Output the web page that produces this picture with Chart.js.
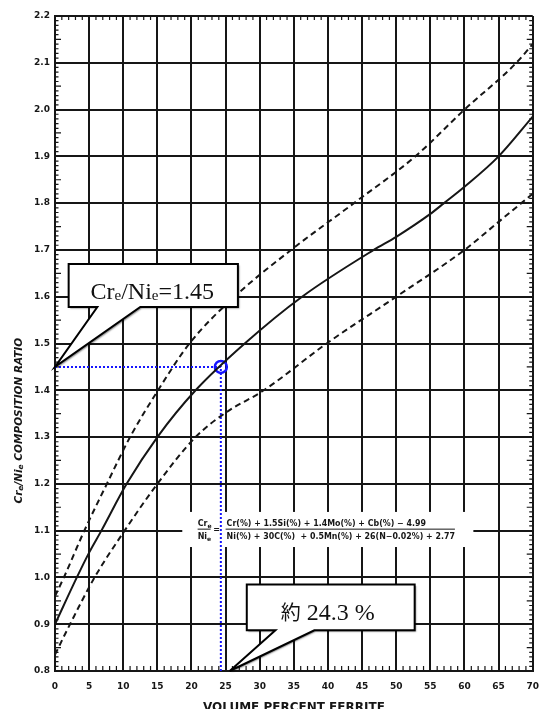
<!DOCTYPE html>
<html>
<head>
<meta charset="utf-8">
<script src="https://cdn.jsdelivr.net/npm/chart.js@4.4.1/dist/chart.umd.min.js"></script>
<style>
  html, body { margin: 0; padding: 0; background: #fff; overflow: hidden; }
  #wrap { position: relative; width: 549px; height: 709px; overflow: hidden; }
  #box { position: relative; width: 549px; height: 720px; }
  canvas { display: block; }
</style>
</head>
<body>
<div id="wrap"><div id="box"><canvas id="c"></canvas></div></div>
<script>
// ---------- data ----------
const ferriteTicks = [0, 5, 10, 15, 20, 25, 30, 35, 40, 45, 50, 55, 60, 65, 70];
const ratioTicks = [0.8, 0.9, 1.0, 1.1, 1.2, 1.3, 1.4, 1.5, 1.6, 1.7, 1.8, 1.9, 2.0, 2.1, 2.2];

// centre (solid) curve
const midFerrite = [0, 3.2, 5, 6.8, 10.5, 15.0, 20.6, 27.8, 36.2, 46.7, 50, 55, 57.0, 60, 65, 70];
const midRatio   = [0.90, 1.00, 1.053, 1.10, 1.20, 1.30, 1.40, 1.50, 1.60, 1.70, 1.728, 1.777, 1.80, 1.835, 1.90, 1.985];

// upper scatter band (dashed)
const upFerrite = [0, 1.3, 4.3, 7.6, 11.0, 15.1, 19.7, 26.3, 34.6, 43.8, 52.8, 60.0, 67.6, 70];
const upRatio   = [0.96, 1.00, 1.10, 1.20, 1.30, 1.40, 1.50, 1.60, 1.70, 1.80, 1.90, 2.00, 2.10, 2.14];

// lower scatter band (dashed)
const loFerrite = [0, 2.2, 5.8, 10.2, 15.0, 20.6, 25, 30.6, 39.8, 50, 60, 65, 70];
const loRatio   = [0.835, 0.90, 1.00, 1.10, 1.20, 1.30, 1.352, 1.40, 1.50, 1.60, 1.70, 1.76, 1.82];

// the reading marked on the chart
const readRatio = 1.45;
const readFerrite = 24.3;

// texts
const xTitle = 'VOLUME PERCENT FERRITE';
const yTitleRuns = ['Cr', 'e', '/Ni', 'e', ' COMPOSITION RATIO'];
const formulaNum = 'Cr(%) + 1.5Si(%) + 1.4Mo(%) + Cb(%) \u2212 4.99';
const formulaDen = 'Ni(%) + 30C(%)  + 0.5Mn(%) + 26(N\u22120.02%) + 2.77';
const noteRatio = ['Cr', 'e', '/Ni', 'e', '=' + readRatio.toFixed(2)];
const noteFerrite = ['\u7d04', ' ' + readFerrite.toFixed(1) + ' %'];

// ---------- styling ----------
const INK = '#161616';
const BLUE = '#1515ff';
const tickFont = { family: '"DejaVu Sans", sans-serif', size: 9, weight: 'bold' };
const SERIF = '"Liberation Serif", "DejaVu Serif", serif';

const pts = (xs, ys) => xs.map((v, i) => ({ x: v, y: ys[i] }));

function drawRuns(ctx, runs, x0, base) {
  let cx = x0;
  for (const r of runs) {
    ctx.font = r.font;
    ctx.fillText(r.t, cx, base + (r.dy || 0));
    cx += ctx.measureText(r.t).width;
  }
}
function runsWidth(ctx, runs) {
  let w = 0;
  for (const r of runs) { ctx.font = r.font; w += ctx.measureText(r.t).width; }
  return w;
}

function drawCallout(ctx, xs, ys, c) {
  const L = xs.getPixelForValue(c.box[0]), R = xs.getPixelForValue(c.box[1]);
  const T = ys.getPixelForValue(c.box[2]), B = ys.getPixelForValue(c.box[3]);
  const b0 = xs.getPixelForValue(c.base[0]), b1 = xs.getPixelForValue(c.base[1]);
  const ax = xs.getPixelForValue(c.anchor[0]), ay = ys.getPixelForValue(c.anchor[1]);
  ctx.save();
  ctx.beginPath();
  ctx.moveTo(L, T); ctx.lineTo(R, T); ctx.lineTo(R, B); ctx.lineTo(b1, B);
  ctx.lineTo(ax, ay); ctx.lineTo(b0, B); ctx.lineTo(L, B); ctx.closePath();
  ctx.shadowColor = 'rgba(0,0,0,0.45)';
  ctx.shadowOffsetX = 1.5; ctx.shadowOffsetY = 1.5; ctx.shadowBlur = 1.5;
  ctx.fillStyle = '#fff';
  ctx.fill();
  ctx.shadowColor = 'rgba(0,0,0,0)';
  ctx.lineWidth = 2; ctx.strokeStyle = '#000'; ctx.lineJoin = 'miter'; ctx.miterLimit = 6;
  ctx.stroke();
  ctx.fillStyle = '#111';
  ctx.textBaseline = 'alphabetic'; ctx.textAlign = 'left';
  const w = runsWidth(ctx, c.runs);
  drawRuns(ctx, c.runs, (L + R) / 2 - w / 2 + (c.dx || 0), B - c.baseOff);
  ctx.restore();
}

const decor = {
  id: 'decor',
  beforeDatasetsDraw(chart) {
    const { ctx, chartArea: a, scales: { x, y } } = chart;
    ctx.save();
    // minor ticks along the frame
    ctx.strokeStyle = INK; ctx.lineWidth = 1.2;
    ctx.beginPath();
    for (let v = 1; v < 70; v++) {
      if (v % 5 === 0) continue;
      const px = x.getPixelForValue(v);
      ctx.moveTo(px, a.top); ctx.lineTo(px, a.top + 4);
      ctx.moveTo(px, a.bottom); ctx.lineTo(px, a.bottom - 5);
    }
    for (let i = 1; i < 140; i++) {
      if (i % 10 === 0) continue;
      const py = y.getPixelForValue(0.8 + i * 0.01);
      const len = i % 5 === 0 ? 6 : 3.5;
      ctx.moveTo(a.left, py); ctx.lineTo(a.left + len, py);
      ctx.moveTo(a.right, py); ctx.lineTo(a.right - len, py);
    }
    ctx.stroke();

    // formula panel (white ground breaking the grid)
    const fl = x.getPixelForValue(18.65), fr = x.getPixelForValue(61.3);
    const ft = y.getPixelForValue(1.140), fb = y.getPixelForValue(1.065);
    ctx.fillStyle = '#fff';
    ctx.fillRect(fl, ft, fr - fl, fb - ft);
    const bar = y.getPixelForValue(1.1) - 1.5;
    ctx.strokeStyle = INK; ctx.lineWidth = 1;
    ctx.beginPath();
    const n0 = x.getPixelForValue(25.0), n1 = x.getPixelForValue(58.6);
    ctx.moveTo(n0, bar); ctx.lineTo(n1, bar);
    const c0 = x.getPixelForValue(20.9), c1 = x.getPixelForValue(22.8);
    ctx.moveTo(c0, bar); ctx.lineTo(c1, bar);
    ctx.stroke();
    ctx.fillStyle = INK;
    ctx.textBaseline = 'alphabetic'; ctx.textAlign = 'left';
    const fF = 'bold 8px "DejaVu Sans", sans-serif';
    const fS = 'bold 6px "DejaVu Sans", sans-serif';
    ctx.font = fF;
    ctx.fillText(formulaNum, n0 + 1, bar - 3, x.getPixelForValue(54.2) - n0);
    ctx.fillText(formulaDen, n0 + 1, bar + 10, n1 - n0 - 1);
    drawRuns(ctx, [{ t: 'Cr', font: fF }, { t: 'e', font: fS, dy: 1.5 }], c0, bar - 3);
    drawRuns(ctx, [{ t: 'Ni', font: fF }, { t: 'e', font: fS, dy: 1.5 }], c0, bar + 10);
    ctx.font = fF;
    ctx.fillText('=', x.getPixelForValue(23.2), bar + 3);
    ctx.restore();
  },
  afterDatasetsDraw(chart) {
    const { ctx, scales: { x, y } } = chart;
    const big = '24px ' + SERIF, sub = '15px ' + SERIF;
    drawCallout(ctx, x, y, {
      box: [2.0, 26.8, 1.670, 1.578], base: [6.2, 12.5], anchor: [0, readRatio],
      baseOff: 8, dx: -1,
      runs: [
        { t: noteRatio[0], font: big }, { t: noteRatio[1], font: sub, dy: 1 },
        { t: noteRatio[2], font: big }, { t: noteRatio[3], font: sub, dy: 1 },
        { t: noteRatio[4], font: big }
      ]
    });
    drawCallout(ctx, x, y, {
      box: [28.1, 52.7, 0.985, 0.887], base: [32.3, 38.0], anchor: [readFerrite + 1.3, 0.8],
      baseOff: 10, dx: -3,
      runs: [
        { t: noteFerrite[0], font: '20px "Noto Sans CJK JP", sans-serif', dy: 0 },
        { t: noteFerrite[1], font: big }
      ]
    });
  },
  afterDraw(chart) {
    const { ctx, scales: { y } } = chart;
    ctx.save();
    ctx.translate(19, y.getPixelForValue(1.335));
    ctx.rotate(-Math.PI / 2);
    ctx.fillStyle = INK;
    ctx.textBaseline = 'middle'; ctx.textAlign = 'left';
    const f = 'italic bold 10.5px "DejaVu Sans", sans-serif';
    const fs = 'italic bold 7.5px "DejaVu Sans", sans-serif';
    const runs = [
      { t: yTitleRuns[0], font: f }, { t: yTitleRuns[1], font: fs, dy: 2.5 },
      { t: yTitleRuns[2], font: f }, { t: yTitleRuns[3], font: fs, dy: 2.5 },
      { t: yTitleRuns[4], font: f }
    ];
    const w = runsWidth(ctx, runs);
    drawRuns(ctx, runs, -w / 2, 0);
    ctx.restore();
  }
};

new Chart(document.getElementById('c'), {
  type: 'line',
  data: {
    datasets: [
      { label: 'centre', data: pts(midFerrite, midRatio), borderColor: INK, borderWidth: 2,
        pointRadius: 0, cubicInterpolationMode: 'monotone', fill: false },
      { label: 'upper', data: pts(upFerrite, upRatio), borderColor: INK, borderWidth: 2,
        borderDash: [6, 4], pointRadius: 0, cubicInterpolationMode: 'monotone', fill: false },
      { label: 'lower', data: pts(loFerrite, loRatio), borderColor: INK, borderWidth: 2,
        borderDash: [6, 4], pointRadius: 0, cubicInterpolationMode: 'monotone', fill: false },
      { label: 'guide', data: [{ x: 0, y: readRatio }, { x: readFerrite, y: readRatio }, { x: readFerrite, y: 0.8 }],
        borderColor: BLUE, borderWidth: 2, borderDash: [2, 2], pointRadius: 0, tension: 0, fill: false },
      { label: 'reading', data: [{ x: readFerrite, y: readRatio }], showLine: false,
        pointRadius: 6, pointBorderWidth: 2.5, pointBorderColor: BLUE,
        pointBackgroundColor: 'rgba(0,0,0,0)', pointStyle: 'circle' }
    ]
  },
  options: {
    responsive: true,
    maintainAspectRatio: false,
    animation: false,
    events: [],
    layout: { padding: { top: 16, right: 8, left: 0, bottom: 0 } },
    plugins: { legend: { display: false }, tooltip: { enabled: false } },
    scales: {
      x: {
        type: 'linear', min: 0, max: 70,
        afterBuildTicks: s => { s.ticks = ferriteTicks.map(v => ({ value: v })); },
        afterFit: s => { s.height = 49; },
        ticks: { font: tickFont, color: INK, padding: 10, maxRotation: 0, autoSkip: false },
        grid: { color: INK, lineWidth: 2, drawTicks: false },
        border: { color: INK, width: 2 },
        title: { display: true, text: xTitle, color: INK,
                 font: { family: '"DejaVu Sans", sans-serif', size: 12, weight: 'bold' },
                 padding: { top: 0, bottom: 5 } }
      },
      y: {
        type: 'linear', min: 0.8, max: 2.2,
        afterBuildTicks: s => { s.ticks = ratioTicks.map(v => ({ value: v })); },
        afterFit: s => { s.width = 55; },
        ticks: { font: tickFont, color: INK, padding: 5, autoSkip: false,
                 callback: v => Number(v).toFixed(1) },
        grid: { color: INK, lineWidth: 2, drawTicks: false },
        border: { color: INK, width: 2 }
      }
    }
  },
  plugins: [decor]
});
</script>
</body>
</html>
